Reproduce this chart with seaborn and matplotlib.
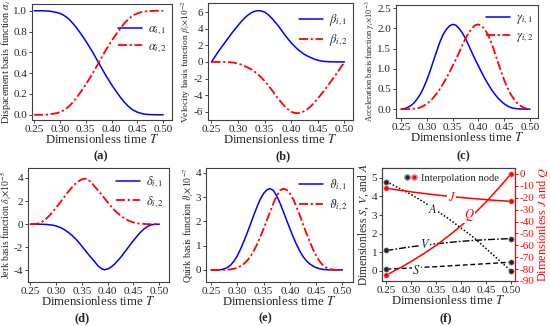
import numpy as np
import pandas as pd
import matplotlib.pyplot as plt
import seaborn as sns
from matplotlib.lines import Line2D
from matplotlib.legend_handler import HandlerTuple

# Dimensionless time grid
T = [0.25, 0.25625, 0.2625, 0.26875, 0.275, 0.28125, 0.2875, 0.29375, 0.30, 0.30625,
     0.3125, 0.31875, 0.325, 0.33125, 0.3375, 0.34375, 0.35, 0.35625, 0.3625, 0.36875,
     0.375, 0.38125, 0.3875, 0.39375, 0.40, 0.40625, 0.4125, 0.41875, 0.425, 0.43125,
     0.4375, 0.44375, 0.45, 0.45625, 0.4625, 0.46875, 0.475, 0.48125, 0.4875, 0.49375,
     0.50]

alpha1 = [1.0, 1.0, 1.0, 0.999, 0.998, 0.995, 0.99, 0.984, 0.975, 0.96,
          0.94, 0.913, 0.88, 0.843, 0.80, 0.756, 0.71, 0.66, 0.61, 0.555,
          0.50, 0.445, 0.39, 0.34, 0.29, 0.244, 0.20, 0.157, 0.12, 0.087,
          0.06, 0.04, 0.025, 0.015, 0.008, 0.004, 0.002, 0.001, 0.0, 0.0,
          0.0]
alpha2 = [0.0, 0.0, 0.0, 0.001, 0.002, 0.005, 0.01, 0.016, 0.025, 0.04,
          0.06, 0.087, 0.12, 0.157, 0.20, 0.244, 0.29, 0.34, 0.39, 0.445,
          0.50, 0.555, 0.61, 0.66, 0.71, 0.756, 0.80, 0.843, 0.88, 0.913,
          0.94, 0.96, 0.975, 0.985, 0.992, 0.996, 0.998, 0.999, 1.0, 1.0,
          1.0]

beta1 = [0.0, 0.6, 1.2, 1.75, 2.3, 2.85, 3.4, 3.9, 4.4, 4.87,
         5.3, 5.65, 5.92, 6.1, 6.18, 6.15, 6.0, 5.72, 5.33, 4.88,
         4.4, 3.85, 3.3, 2.78, 2.3, 1.88, 1.5, 1.18, 0.9, 0.68,
         0.5, 0.33, 0.2, 0.11, 0.06, 0.03, 0.01, 0.005, 0.0, 0.0,
         0.0]
beta2 = [0.0, 0.0, 0.0, -0.005, -0.01, -0.03, -0.06, -0.11, -0.2, -0.33,
         -0.5, -0.68, -0.9, -1.18, -1.5, -1.88, -2.3, -2.78, -3.3, -3.85,
         -4.4, -4.88, -5.33, -5.72, -6.0, -6.15, -6.18, -6.1, -5.92, -5.65,
         -5.3, -4.87, -4.4, -3.9, -3.4, -2.85, -2.3, -1.75, -1.2, -0.6,
         0.0]

gamma1 = [0.0, 0.01, 0.04, 0.085, 0.15, 0.25, 0.37, 0.53, 0.72, 0.94,
          1.18, 1.42, 1.65, 1.84, 1.97, 2.06, 2.1, 2.08, 2.0, 1.89,
          1.75, 1.58, 1.4, 1.23, 1.07, 0.91, 0.76, 0.62, 0.49, 0.38,
          0.28, 0.2, 0.13, 0.08, 0.04, 0.02, 0.01, 0.004, 0.0, 0.0,
          0.0]
gamma2 = [0.0, 0.0, 0.0, 0.004, 0.01, 0.02, 0.04, 0.08, 0.13, 0.2,
          0.28, 0.38, 0.49, 0.62, 0.76, 0.91, 1.07, 1.23, 1.4, 1.58,
          1.75, 1.89, 2.0, 2.08, 2.1, 2.06, 1.97, 1.84, 1.65, 1.42,
          1.18, 0.94, 0.72, 0.53, 0.37, 0.25, 0.15, 0.085, 0.04, 0.01,
          0.0]

delta1 = [0.0, 0.0, 0.0, -0.003, -0.01, -0.025, -0.05, -0.09, -0.15, -0.25,
          -0.38, -0.55, -0.75, -0.98, -1.25, -1.56, -1.9, -2.25, -2.6, -2.93,
          -3.25, -3.6, -3.83, -3.94, -3.88, -3.72, -3.5, -3.2, -2.88, -2.52,
          -2.15, -1.78, -1.42, -1.08, -0.76, -0.48, -0.26, -0.11, -0.03, -0.005,
          0.0]
delta2 = [0.0, 0.005, 0.03, 0.11, 0.26, 0.48, 0.76, 1.08, 1.42, 1.78,
          2.15, 2.52, 2.88, 3.2, 3.5, 3.72, 3.88, 3.94, 3.83, 3.6,
          3.25, 2.93, 2.6, 2.25, 1.9, 1.56, 1.25, 0.98, 0.75, 0.55,
          0.38, 0.25, 0.15, 0.09, 0.05, 0.025, 0.01, 0.003, 0.0, 0.0,
          0.0]

theta1 = [0.0, 0.0, 0.0, 0.01, 0.04, 0.1, 0.2, 0.36, 0.58, 0.86,
          1.18, 1.52, 1.88, 2.25, 2.6, 2.92, 3.15, 3.3, 3.35, 3.27,
          3.05, 2.75, 2.4, 2.05, 1.7, 1.36, 1.05, 0.78, 0.55, 0.38,
          0.25, 0.16, 0.09, 0.05, 0.02, 0.01, 0.0, 0.0, 0.0, 0.0,
          0.0]
theta2 = [0.0, 0.0, 0.0, 0.0, 0.0, 0.01, 0.02, 0.05, 0.09, 0.16,
          0.25, 0.38, 0.55, 0.78, 1.05, 1.36, 1.7, 2.05, 2.4, 2.75,
          3.05, 3.27, 3.35, 3.3, 3.15, 2.92, 2.6, 2.25, 1.88, 1.52,
          1.18, 0.86, 0.58, 0.36, 0.2, 0.1, 0.04, 0.01, 0.0, 0.0,
          0.0]

# panel (f)
Tf = [0.25, 0.275, 0.30, 0.325, 0.35, 0.375, 0.40, 0.425, 0.45, 0.475, 0.50]
S_f = [0.1, 0.13, 0.16, 0.2, 0.23, 0.27, 0.31, 0.35, 0.39, 0.43, 0.47]
V_f = [1.1, 1.2, 1.3, 1.38, 1.46, 1.53, 1.59, 1.64, 1.68, 1.71, 1.74]
A_f = [4.8, 4.45, 4.1, 3.7, 3.25, 2.8, 2.3, 1.8, 1.2, 0.6, 0.0]
J_f = [-12, -13.6, -15.1, -16.4, -17.6, -18.8, -19.8, -20.7, -21.6, -22.4, -23.0]
Q_f = [-85, -79.5, -73.5, -67, -60, -52, -43.5, -34, -23.5, -12, 0]

xticks = [0.25, 0.30, 0.35, 0.40, 0.45, 0.50]

sns.set_theme(style="ticks")
plt.rcParams['font.family'] = ['Liberation Serif', 'DejaVu Serif']
plt.rcParams['mathtext.fontset'] = 'stix'
plt.rcParams['axes.edgecolor'] = '#404040'
plt.rcParams['axes.linewidth'] = 0.8

BLUE = '#0000ff'
RED = '#ff0000'
RED_DASH = (0, (5, 1.5, 1.2, 1.5))

fig = plt.figure(figsize=(5.5, 3.26), dpi=100)


def W(px):
    return px / 550


def H(px):
    return px / 326


def make_ax(x0, x1, y0, y1):
    return fig.add_axes([W(x0), 1 - H(y1), W(x1 - x0), H(y1 - y0)])


def style_ax(ax, xlim, ylim, yticks, yfmt, ylabel, ysize, ypad=0.5):
    ax.set_xlim(*xlim)
    ax.set_ylim(*ylim)
    ax.set_xticks(xticks)
    ax.set_xticklabels([f"{t:.2f}" for t in xticks])
    ax.set_yticks(yticks)
    ax.set_yticklabels([yfmt(v) for v in yticks])
    ax.tick_params(direction='out', length=2.5, width=0.7, labelsize=8, pad=1, color='#404040')
    ax.set_xlabel("Dimensionless time $T$", fontsize=9.2, labelpad=-0.5)
    ax.set_ylabel(ylabel, fontsize=ysize, labelpad=ypad)


def two_curves(ax, y1, y2, lab1, lab2, loc_anchor):
    sns.lineplot(x=T, y=y1, ax=ax, color=BLUE, lw=1.1, label=lab1)
    sns.lineplot(x=T, y=y2, ax=ax, color=RED, lw=1.3, linestyle=RED_DASH, label=lab2)
    ax.legend(loc='upper right', bbox_to_anchor=loc_anchor, frameon=False, fontsize=9,
              handlelength=1.9, handletextpad=0.5, labelspacing=0.3, borderaxespad=0)


# (a)
ax = make_ax(32, 172, 4, 120)
two_curves(ax, alpha1, alpha2, r"$\alpha_{i,1}$", r"$\alpha_{i,2}$", (1.0, 0.88))
style_ax(ax, (0.246, 0.517), (-0.05, 1.065), [0, 0.2, 0.4, 0.6, 0.8, 1.0],
         lambda v: f"{v:.1f}", r"Dispacement basis function $\alpha_i$", 7.3)

# (b)
ax = make_ax(208, 353, 3, 120)
two_curves(ax, beta1, beta2, r"$\beta_{i,1}$", r"$\beta_{i,2}$", (1.0, 0.96))
style_ax(ax, (0.2436, 0.516), (-7.0, 7.1), [-6, -4, -2, 0, 2, 4, 6],
         lambda v: f"{v:d}", r"Velocity basis function $\beta_i$$\times$10$^{-2}$", 6.8)

# (c)
ax = make_ax(396, 538, 5, 118)
two_curves(ax, gamma1, gamma2, r"$\gamma_{i,1}$", r"$\gamma_{i,2}$", (1.0, 0.98))
style_ax(ax, (0.2403, 0.5155), (-0.22, 2.58), [0, 0.5, 1.0, 1.5, 2.0, 2.5],
         lambda v: f"{v:.1f}", r"Acceleration basis function $\gamma_i$$\times$10$^{-3}$", 6.0)

# (d)
ax = make_ax(28, 169, 168, 282)
two_curves(ax, delta1, delta2, r"$\delta_{i,1}$", r"$\delta_{i,2}$", (1.0, 0.99))
style_ax(ax, (0.2456, 0.519), (-5.0, 4.86), [-4, -2, 0, 2, 4],
         lambda v: f"{v:d}", r"Jerk basis function $\delta_i$$\times$10$^{-5}$", 7.0, -0.5)

# (e)
ax = make_ax(206, 353, 168, 282)
two_curves(ax, theta1, theta2, r"$\vartheta_{i,1}$", r"$\vartheta_{i,2}$", (1.0, 0.96))
style_ax(ax, (0.2405, 0.520), (-0.5, 4.2), [0, 1, 2, 3, 4],
         lambda v: f"{v:d}", r"Quirk basis function $\vartheta_i$$\times$10$^{-7}$", 7.0)

# (f)
ax = make_ax(382, 515, 168, 281)
ax2 = ax.twinx()
sns.lineplot(x=Tf, y=A_f, ax=ax, color='black', lw=1.1, linestyle=(0, (1, 1.3)))
sns.lineplot(x=Tf, y=V_f, ax=ax, color='black', lw=1.0, linestyle=(0, (5, 1.5, 1.2, 1.5)))
sns.lineplot(x=Tf, y=S_f, ax=ax, color='black', lw=1.0, linestyle=(0, (3.5, 2)))
for ys in (A_f, V_f, S_f):
    ax.scatter([Tf[0], Tf[-1]], [ys[0], ys[-1]], s=14, color='#222222',
               edgecolor='#888888', linewidth=0.5, zorder=5, clip_on=False)
sns.lineplot(x=Tf, y=J_f, ax=ax2, color=RED, lw=1.1)
sns.lineplot(x=Tf, y=Q_f, ax=ax2, color=RED, lw=1.1)
for ys in (J_f, Q_f):
    ax2.scatter([Tf[0], Tf[-1]], [ys[0], ys[-1]], s=14, color=RED,
                edgecolor='#ff8080', linewidth=0.5, zorder=5, clip_on=False)

style_ax(ax, (0.2411, 0.508), (-0.54, 5.53), [0, 1, 2, 3, 4, 5],
         lambda v: f"{v:d}", r"Dimensionless $S$, $V$, and $A$", 8.3)
ax2.set_ylim(-90, 5)
ax2.set_yticks(list(range(-90, 1, 10)))
ax2.set_yticklabels([str(v) for v in range(-90, 1, 10)])
ax2.tick_params(direction='out', length=2.5, width=0.7, labelsize=8, pad=1,
                colors=RED)
ax2.spines['right'].set_color(RED)
ax2.set_ylabel(r"Dimensionless $J$ and $Q$", fontsize=8.8, color=RED, labelpad=0.5)

bb = dict(facecolor='white', edgecolor='none', pad=0.3)
ax.text(0.343, 3.3, "$A$", fontsize=9, ha='center', va='center', bbox=bb, zorder=6)
ax.text(0.327, 1.42, "$V$", fontsize=9, ha='center', va='center', bbox=bb, zorder=6)
ax.text(0.310, 0.05, "$S$", fontsize=9, ha='center', va='center', bbox=bb, zorder=6)
ax2.text(0.381, -20.1, "$J$", fontsize=9, color=RED, ha='center', va='center', bbox=bb, zorder=6)
ax2.text(0.4155, -34.1, "$Q$", fontsize=9, color=RED, ha='center', va='center', bbox=bb, zorder=6)

h_black = Line2D([], [], marker='o', color='#222222', markeredgecolor='#888888', ls='none', ms=3.8)
h_red = Line2D([], [], marker='o', color=RED, markeredgecolor='#ff8080', ls='none', ms=3.8)
ax2.legend([(h_black, h_red)], ["Interpolation node"],
           handler_map={tuple: HandlerTuple(ndivide=None, pad=0.15)},
           loc='upper left', bbox_to_anchor=(0.13, 1.0), frameon=False, fontsize=7.6,
           handlelength=1.2, handletextpad=0.4, borderaxespad=0.1)

# panel captions
for lab, x, y in [("(a)", 101, 156), ("(b)", 283, 156), ("(c)", 463, 156),
                  ("(d)", 82, 318), ("(e)", 265, 318), ("(f)", 446, 318)]:
    fig.text(W(x), 1 - H(y), lab, fontsize=9, fontweight='bold', ha='center', va='center')

fig.savefig("out.png", dpi=100)
